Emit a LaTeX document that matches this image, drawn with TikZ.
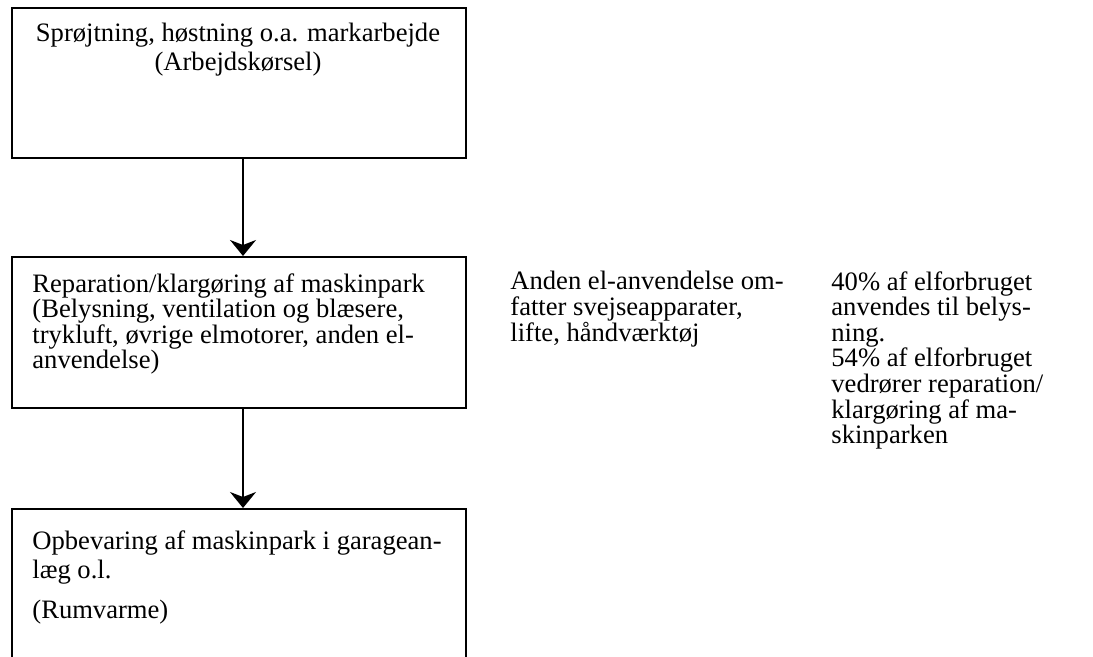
\documentclass[tikz,border=0pt]{standalone}
\usepackage{fontspec}
\setmainfont{Liberation Serif}
\usetikzlibrary{arrows.meta}
\tikzstyle{block} = [draw, line width=1pt, minimum width=227pt, inner sep=0pt, anchor=north west]
\tikzstyle{note} = [inner sep=0pt, align=left, anchor=north west, font=\fontsize{13.3}{12.8}\selectfont]
\tikzstyle{line} = [draw, line width=0.8pt, -{Stealth[length=8pt,width=13pt,inset=2.5pt]}]

\begin{document}
\begin{tikzpicture}[x=0.5pt,y=-0.5pt]
		\useasboundingbox (0,0) rectangle (1093,657);
		\clip (0,0) rectangle (1093,657);
		\node[block, minimum height=75pt] (field) at (11,7) {};
		\node[block, minimum height=75.5pt] (repair) at (11,256) {};
		\node[block, minimum height=100pt] (storage) at (11,508) {};
		\node[note, anchor=north, align=center, font=\fontsize{13.3}{14.5}\selectfont] (fieldtxt) at (238,23) {Sprøjtning, høstning o.a. markarbejde\\(Arbejdskørsel)};
		\node[note] (repairtxt) at (32,273) {Reparation/klargøring af maskinpark\\(Belysning, ventilation og blæsere,\\trykluft, øvrige elmotorer, anden el-\\anvendelse)};
		\node[note, font=\fontsize{13.3}{14.5}\selectfont] (storagetxt) at (32,530) {Opbevaring af maskinpark i garagean-\\læg o.l.\\[5.5pt](Rumvarme)};
		\node[note] (other) at (510,271) {Anden el-anvendelse om-\\fatter svejseapparater,\\lifte, håndværktøj};
		\node[note] (share) at (831,271) {40\% af elforbruget\\anvendes til belys-\\ning.\\54\% af elforbruget\\vedrører reparation/\\klargøring af ma-\\skinparken};
		\path[line] ([xshift=2pt]field.south) -- ([xshift=2pt]repair.north);
		\path[line] ([xshift=2pt]repair.south) -- ([xshift=2pt]storage.north);
	\end{tikzpicture}
\end{document}
